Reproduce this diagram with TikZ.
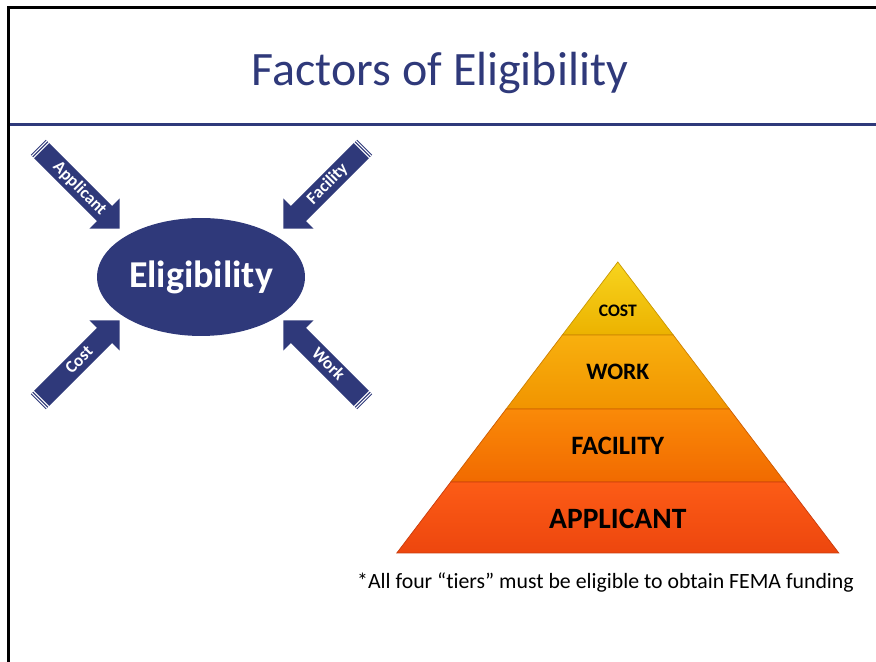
\documentclass[tikz,border=0pt]{standalone}
\usepackage{fontspec}
\setmainfont{Carlito}[Ligatures=NoCommon]
\usepackage{tikz}
\usetikzlibrary{shapes.arrows,shapes.geometric,calc}
\definecolor{navy}{RGB}{47,57,122}
\definecolor{costtop}{RGB}{247,212,30}
\definecolor{costbot}{RGB}{236,178,0}
\definecolor{worktop}{RGB}{248,176,14}
\definecolor{workbot}{RGB}{241,148,0}
\definecolor{factop}{RGB}{250,138,8}
\definecolor{facbot}{RGB}{241,106,0}
\definecolor{apptop}{RGB}{252,92,22}
\definecolor{appbot}{RGB}{237,70,14}

\begin{document}
\begin{tikzpicture}[x=0.02cm, y=0.02cm,
  title/.style={anchor=base, text=navy,
                font=\fontsize{27.3pt}{32pt}\selectfont},
  blob/.style={ellipse, fill=navy, text=white, inner sep=0pt,
               minimum width=4.16cm, minimum height=2.36cm,
               font=\fontsize{21.6pt}{26pt}\selectfont\bfseries},
  inarr/.style={single arrow, fill=navy, text=white, anchor=tip,
                minimum height=2.3cm, minimum width=0.84cm,
                single arrow head extend=0.215cm,
                single arrow tip angle=90, inner ysep=0pt,
                text height=8.5pt, text depth=3.2pt,
                font=\fontsize{9.8pt}{11pt}\selectfont\bfseries},
  tier/.style={text=black, inner sep=0pt},
  note/.style={anchor=base west,
               font=\fontsize{12.4pt}{15pt}\selectfont}
]
\useasboundingbox (0,0) rectangle (876,662);
% Slide frame
\draw[line width=0.05cm] (8.5,0) -- (8.5,654.5) -- (876,654.5);
\draw[navy, line width=0.05cm] (9.5,537.5) -- (876,537.5);
\node[title] (ttl) at (440,576) {Factors of Eligibility};

% Eligibility and its four inputs
\node[blob] (elig) at (201,385) {Eligibility};
\node[inarr, rotate=-45] (app) at (120,433) {\hspace{0.25cm}Applicant};
\node[inarr, rotate=45, shape border rotate=180] (fac) at (283,433) {Facility\hspace{0.25cm}};
\node[inarr, rotate=45] (cst) at (120,342) {\hspace{0.25cm}Cost};
\node[inarr, rotate=-45, shape border rotate=180] (wrk) at (283,342) {Work\hspace{0.25cm}};
% striped tails
\foreach \a in {app,fac,cst,wrk}{
  \foreach \d in {0.038cm,0.086cm}{
    \coordinate (s) at ($(\a.tail)!\d!(\a.tip)$);
    \draw[white, line width=0.6pt] ($(s)!0.24cm!90:(\a.tip)$)
      -- ($(s)!0.24cm!-90:(\a.tip)$);
  }
}

% Pyramid of tiers
\coordinate (apex) at (617.8,400);
\coordinate (bl) at (396.8,109);
\coordinate (br) at (838.8,109);
\foreach \fa/\fb/\tc/\bc in {0/0.251/costtop/costbot,
    0.251/0.505/worktop/workbot, 0.505/0.756/factop/facbot,
    0.756/1/apptop/appbot}
  \shadedraw[top color=\tc, bottom color=\bc, draw=\bc!85!black,
             line width=0.4pt]
    ($(apex)!\fa!(bl)$) -- ($(apex)!\fb!(bl)$)
    -- ($(apex)!\fb!(br)$) -- ($(apex)!\fa!(br)$) -- cycle;
\node[tier, font=\fontsize{10pt}{12pt}\selectfont\bfseries] (tcost) at (617.8,351) {COST};
\node[tier, font=\fontsize{13.4pt}{16pt}\selectfont\bfseries] (twork) at (617.8,290) {WORK};
\node[tier, font=\fontsize{15.1pt}{18pt}\selectfont\bfseries] (tfac) at (617.8,216.3) {FACILITY};
\node[tier, font=\fontsize{16.8pt}{20pt}\selectfont\bfseries] (tapp) at (617.8,143) {APPLICANT};

\node[note] (foot) at (351,73) {*All four “tiers” must be eligible to obtain FEMA funding};
\end{tikzpicture}
\end{document}
